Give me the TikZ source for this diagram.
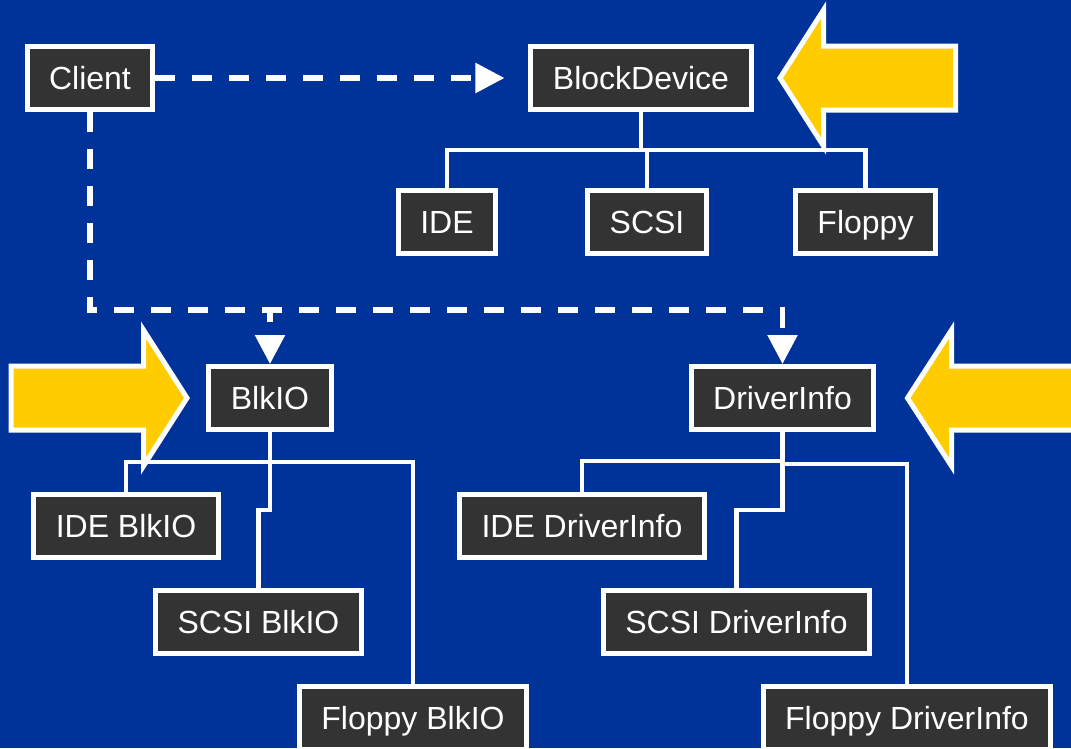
\documentclass[tikz,border=0pt]{standalone}
\usepackage{fontspec}
\setmainfont{Liberation Sans}
\usepackage{xcolor}
\usepackage{tikz}
\usetikzlibrary{arrows.meta}
\definecolor{slideblue}{RGB}{0,51,153}
\definecolor{boxgray}{RGB}{51,51,51}
\definecolor{hiyellow}{RGB}{255,204,0}
\tikzstyle{cls} = [rectangle, draw=white, line width=5pt, fill=boxgray, text=white, font=\fontsize{32}{38}\selectfont, minimum height=63pt, inner xsep=22pt, inner ysep=0pt, text height=23pt, text depth=0pt]
\tikzstyle{tree} = [draw=white, line width=4.5pt]
\tikzstyle{uses} = [draw=white, line width=5.5pt, dash pattern=on 20pt off 17pt, -{Triangle[length=29pt,width=29pt]}]
\tikzstyle{pointer} = [draw=white, line width=5pt, fill=hiyellow, line join=miter]

\begin{document}
\begin{tikzpicture}[x=1pt, y=-1pt]
    \clip (0,0) rectangle (1071,748);
    \fill[slideblue] (0,0) rectangle (1071,748);
    \node(client)[cls] at (90,78) {Client};
    \node(blockdev)[cls] at (641,78) {BlockDevice};
    \node(ide)[cls] at (447,222) {IDE};
    \node(scsi)[cls] at (647,222) {SCSI};
    \node(floppy)[cls] at (865.5,222) {Floppy};
    \node(blkio)[cls] at (270,398) {BlkIO};
    \node(drvinfo)[cls] at (782.5,398) {DriverInfo};
    \node(ideblk)[cls] at (126,526) {IDE BlkIO};
    \node(scsiblk)[cls] at (258.5,622) {SCSI BlkIO};
    \node(floppyblk)[cls] at (413,718) {Floppy BlkIO};
    \node(idedrv)[cls] at (582,526) {IDE DriverInfo};
    \node(scsidrv)[cls] at (736.5,622) {SCSI DriverInfo};
    \node(floppydrv)[cls] at (907,718) {Floppy DriverInfo};
    \coordinate(tap) at (270,310);
    % inheritance trees
    \draw[tree](blockdev.south) -- ++(0,38) -| (ide.north);
    \draw[tree](blockdev.south) -- ++(0,38) -| (scsi.north);
    \draw[tree](blockdev.south) -- ++(0,38) -| (floppy.north);
    \draw[tree](blkio.south) -- ++(0,30) -| (ideblk.north);
    \draw[tree](blkio.south) -- ++(0,78) -| (scsiblk.north);
    \draw[tree](blkio.south) -- ++(0,30) -| (floppyblk.north);
    \draw[tree](drvinfo.south) -- ++(0,29) -| (idedrv.north);
    \draw[tree](drvinfo.south) -- ++(0,78) -| (scsidrv.north);
    \draw[tree](drvinfo.south) -- ++(0,32) -| (floppydrv.north);
    % client uses
    \draw[uses, shorten >=24pt](client) -- (blockdev);
    \draw[uses](client.south) |- (tap) -| (drvinfo.north);
    \draw[uses, dash phase=8pt](tap) -- (blkio);
    % yellow pointers
    \draw[pointer] (780,78) -- (823.5,10) -- (823.5,46) -- (955.5,46) -- (955.5,110) -- (823.5,110) -- (823.5,146) -- cycle;
    \draw[pointer] (187,398) -- (143.5,330) -- (143.5,366) -- (11,366) -- (11,430) -- (143.5,430) -- (143.5,466) -- cycle;
    \draw[pointer] (907.5,398) -- (951.5,330) -- (951.5,366) -- (1090,366) -- (1090,430) -- (951.5,430) -- (951.5,466) -- cycle;
    %\draw[tree, dashed](client) -- (blkio);
  \end{tikzpicture}
\end{document}
